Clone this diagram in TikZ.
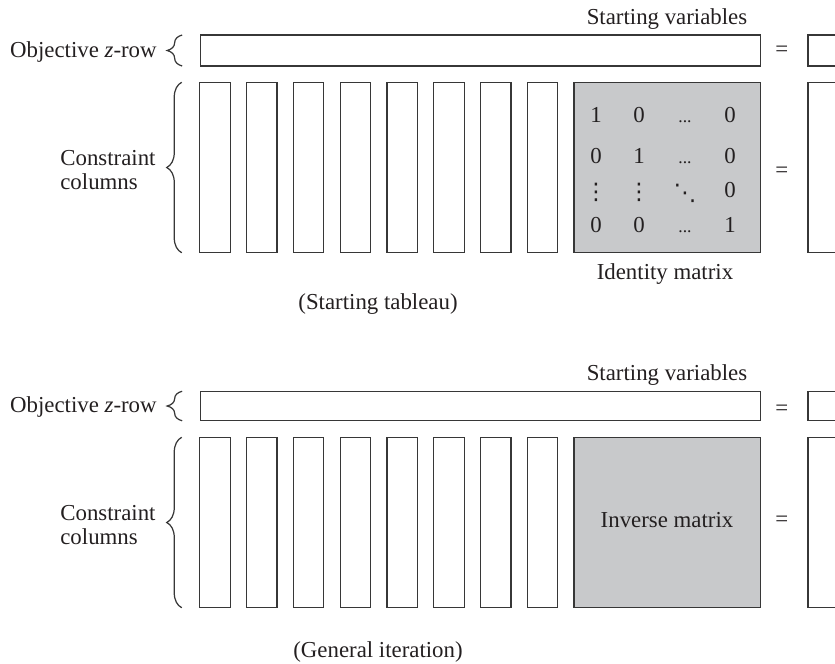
\documentclass[tikz,border=0pt]{standalone}
\usepackage{fontspec}
\setmainfont{Liberation Serif}
\newfontfamily\dotsfont{DejaVu Sans}
\usepackage{tikz}
\usetikzlibrary{positioning,calc,decorations.pathreplacing}
\definecolor{linegray}{RGB}{55,55,55}
\definecolor{boxfill}{RGB}{200,201,203}
\definecolor{inkblack}{RGB}{35,31,32}
\newcommand{\lowdots}{{\fontsize{10}{10}\selectfont ...}}
\newcommand{\updots}{{\dotsfont ⋮}}
\newcommand{\diagdots}{{\dotsfont ⋱}}

\begin{document}
\begin{tikzpicture}[x=0.02cm,y=-0.02cm,
    font=\fontsize{13}{13.7}\selectfont,text=inkblack,
    box/.style={draw=linegray,line width=0.7pt,inner sep=0pt,outer sep=0pt},
    colbox/.style={box,minimum width=0.61cm,minimum height=3.41cm},
    zbox/.style={box,minimum width=11.21cm,minimum height=0.62cm},
    matbox/.style={box,fill=boxfill,minimum width=3.735cm,minimum height=3.41cm},
    rhsbox/.style={box,anchor=west,minimum width=2cm},
    entry/.style={anchor=base,inner sep=0pt,text height=8pt,text depth=0pt},
    lbl/.style={anchor=base,inner sep=0pt},
    brace/.style={decorate,decoration={brace,amplitude=0.3cm},draw=linegray,line width=0.7pt}]

    \useasboundingbox (0,0) rectangle (835,663);
    \clip (0,0) rectangle (835,663);

    % starting tableau
    \node[zbox] (sz) at (480.35,50.5) {};
    \foreach \i in {1,...,8}
        \node[colbox] (sc\i) at ({215+46.8*(\i-1)},167.5) {};
    \node[matbox] (sid) at (667.35,167.5) {};
    \node (seqz) at (781.7,51.5) {=};
    \node (seqc) at (781.7,172) {=};
    \node[rhsbox,minimum height=0.62cm] (srz) at (808,50.5) {};
    \node[rhsbox,minimum height=3.41cm] (src) at (808,167.5) {};

    \node[entry] (m11) at (596,122.5) {1};
    \node[entry] (m12) at (639,122.5) {0};
    \node[entry] (m13) at (685,122.5) {\lowdots};
    \node[entry] (m14) at (730,122.5) {0};
    \node[entry] (m21) at (596,163) {0};
    \node[entry] (m22) at (639,163) {1};
    \node[entry] (m23) at (685,163) {\lowdots};
    \node[entry] (m24) at (730,163) {0};
    \node[entry] (m31) at (596,199) {\updots};
    \node[entry] (m32) at (639,199) {\updots};
    \node[entry] (m33) at (685,200.5) {\diagdots};
    \node[entry] (m34) at (730,197.5) {0};
    \node[entry] (m41) at (596,232.5) {0};
    \node[entry] (m42) at (639,232.5) {0};
    \node[entry] (m43) at (685,232.5) {\lowdots};
    \node[entry] (m44) at (730,232.5) {1};

    \node[lbl] (svar) at (667,24.5) {Starting variables};
    \node[lbl] (sidl) at (665,279.5) {Identity matrix};
    \node[lbl,anchor=base east] (sobj) at (157,57) {Objective \textit{z}-row};
    \node[anchor=west,align=left,inner sep=0pt] (scon) at (60,170) {Constraint\\columns};
    \node[lbl] (stab) at (378,309) {(Starting tableau)};

    \draw[brace] ([xshift=-0.36cm]sz.south west) -- ([xshift=-0.36cm]sz.north west);
    \draw[brace] ([xshift=-0.36cm]sc1.south west) -- ([xshift=-0.36cm]sc1.north west);

    % general iteration
    \node[zbox,minimum height=0.59cm] (gz) at (480.35,406) {};
    \foreach \i in {1,...,8}
        \node[colbox] (gc\i) at ({215+46.8*(\i-1)},522.5) {};
    \node[matbox] (ginv) at (667.35,522.5) {};
    \node (ginvl) at (667,520) {Inverse matrix};
    \node (geqz) at (781.7,410) {=};
    \node (geqc) at (781.7,521) {=};
    \node[rhsbox,minimum height=0.59cm] (grz) at (808,406) {};
    \node[rhsbox,minimum height=3.41cm] (grc) at (808,522.5) {};

    \node[lbl] (gvar) at (667,380) {Starting variables};
    \node[lbl,anchor=base east] (gobj) at (157,412) {Objective \textit{z}-row};
    \node[anchor=west,align=left,inner sep=0pt] (gcon) at (60,525) {Constraint\\columns};
    \node[lbl] (gtab) at (378,657) {(General iteration)};

    \draw[brace] ([xshift=-0.36cm]gz.south west) -- ([xshift=-0.36cm]gz.north west);
    \draw[brace] ([xshift=-0.36cm]gc1.south west) -- ([xshift=-0.36cm]gc1.north west);

\end{tikzpicture}
\end{document}
